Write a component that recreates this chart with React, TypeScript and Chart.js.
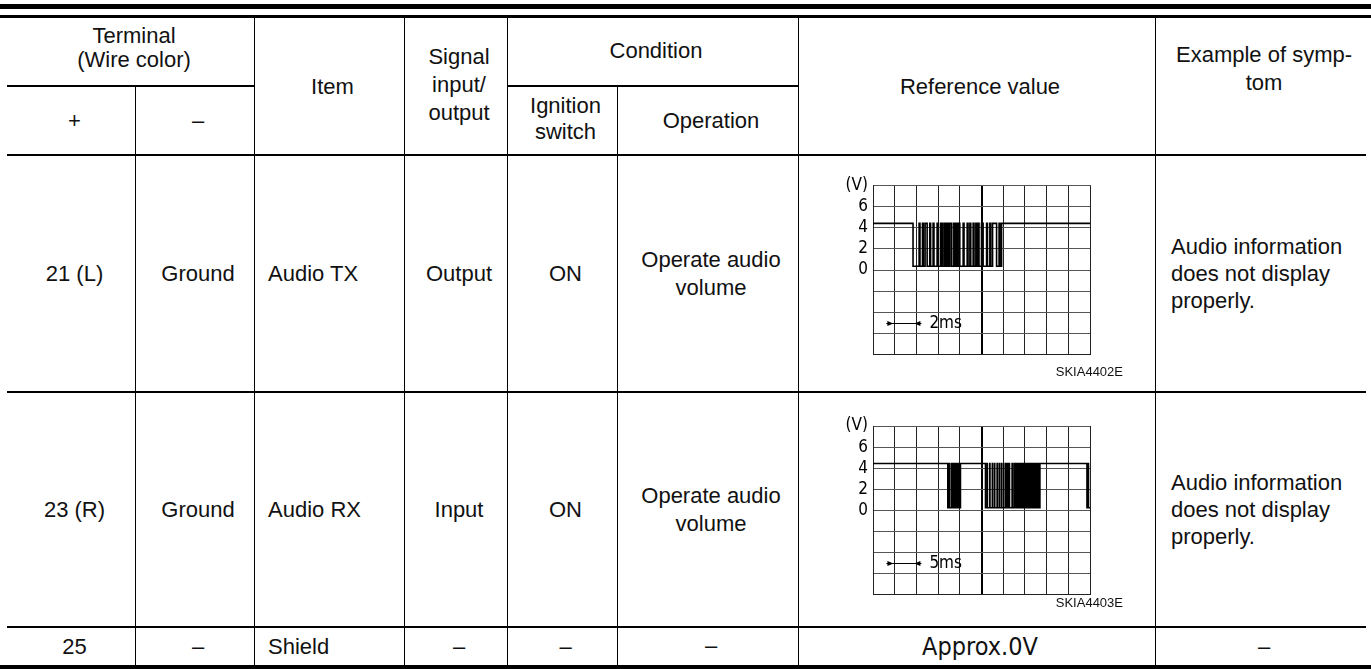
import React, { useEffect, useRef } from 'react';
import { Chart, registerables } from 'chart.js';

Chart.register(...registerables);

// ---------------- data ----------------
const terminalPlus = ['21 (L)', '23 (R)', '25'];
const terminalMinus = ['Ground', 'Ground', '–'];
const items = ['Audio TX', 'Audio RX', 'Shield'];
const signalIO = ['Output', 'Input', '–'];
const ignitionSwitch = ['ON', 'ON', '–'];
const operations = ['Operate audio\nvolume', 'Operate audio\nvolume', '–'];
const referenceTexts = ['', '', 'Approx.0V'];
const symptoms = [
  'Audio information\ndoes not display\nproperly.',
  'Audio information\ndoes not display\nproperly.',
  '–',
];
const figureIds = ['SKIA4402E', 'SKIA4403E'];

// oscilloscope vertical axis (V)
const yTickValues = [8, 6, 4, 2, 0];
const yTickLabels = ['(V)', '6', '4', '2', '0'];

// Audio TX waveform: [time ms, volts] – 2 ms / division
const txSignal: [number, number][] = [
  [0, 4.4], [3.69, 0.35],
  [4.25, 4.4], [4.33, 0.35],
  [4.56, 4.4], [4.64, 0.35],
  [4.8, 4.4], [4.99, 0.35],
  [5.23, 4.4], [5.31, 0.35],
  [5.54, 4.4], [5.62, 0.35],
  [5.91, 4.4], [5.99, 0.35],
  [6.22, 4.4], [6.3, 0.35], [6.38, 4.4], [6.46, 0.35],
  [6.62, 4.4], [6.7, 0.35],
  [6.78, 4.4], [6.86, 0.35],
  [6.96, 4.4], [7.02, 0.35], [7.1, 4.4], [7.26, 0.35],
  [7.45, 4.4], [7.53, 0.35],
  [7.63, 4.4], [7.71, 0.35],
  [7.85, 4.4], [8.0, 0.35],
  [8.31, 4.4], [8.39, 0.35],
  [8.68, 4.4], [8.76, 0.35],
  [8.93, 4.4], [9.01, 0.35],
  [9.23, 4.4], [9.31, 0.35],
  [9.48, 4.4], [9.56, 0.35],
  [9.69, 4.4], [9.77, 0.35],
  [10.0, 4.4], [10.15, 0.35],
  [10.47, 4.4], [10.55, 0.35],
  [10.77, 4.4], [10.85, 0.35],
  [11.02, 4.4], [11.39, 0.35],
  [11.62, 4.4], [11.7, 0.35],
  [11.85, 4.4], [20, 4.4],
];
const txTimeMax = 20;
const txTimeStep = 2;
const txMarkSpan = [1.23, 4.46];
const txMarkLabel = '2ms';

// Audio RX waveform: [time ms, volts] – 5 ms / division
const rxSignal: [number, number][] = [
  [0, 4.45], [17.23, 0.25],
  [17.6, 4.45], [17.65, 0.25], [18.1, 4.45], [18.15, 0.25], [18.5, 4.45], [18.55, 0.25],
  [18.9, 4.45], [18.95, 0.25], [19.3, 4.45], [19.35, 0.25], [19.55, 4.45], [19.6, 0.25],
  [19.8, 4.45], [19.85, 0.25], [20.0, 4.45], [20.05, 0.25],
  [20.15, 4.45], [25.92, 0.25],
  [26.3, 4.45], [26.35, 0.25], [26.9, 4.45], [26.95, 0.25], [27.5, 4.45], [27.55, 0.25],
  [28.0, 4.45], [28.05, 0.25], [28.6, 4.45], [28.65, 0.25], [29.1, 4.45], [29.15, 0.25],
  [29.6, 4.45], [29.65, 0.25], [30.1, 4.45], [30.15, 0.25], [30.6, 4.45], [30.65, 0.25],
  [31.0, 4.45], [31.1, 0.25], [31.35, 4.45], [31.45, 0.25], [32.05, 4.45], [32.1, 0.25],
  [32.5, 4.45], [32.65, 0.25], [32.8, 4.45], [32.95, 0.25], [33.1, 4.45], [33.25, 0.25],
  [33.4, 4.45], [33.55, 0.25], [33.7, 4.45], [33.85, 0.25], [34.0, 4.45], [34.15, 0.25],
  [34.3, 4.45], [34.45, 0.25], [34.6, 4.45], [34.75, 0.25], [34.9, 4.45], [35.05, 0.25],
  [35.2, 4.45], [35.35, 0.25], [35.5, 4.45], [35.65, 0.25], [35.8, 4.45], [35.95, 0.25],
  [36.1, 4.45], [36.25, 0.25], [36.4, 4.45], [36.55, 0.25], [36.7, 4.45], [36.85, 0.25],
  [37.0, 4.45], [37.15, 0.25], [37.3, 4.45], [37.45, 0.25], [37.6, 4.45], [37.75, 0.25],
  [37.9, 4.45], [38.05, 0.25], [38.2, 4.45], [38.3, 0.25],
  [38.46, 4.45], [49.3, 0.25], [49.6, 4.45], [49.65, 0.25], [50, 0.25],
];
const rxTimeMax = 50;
const rxTimeStep = 5;
const rxMarkSpan = [3.1, 11.15];
const rxMarkLabel = '5ms';

const markLevel = -5;

// ---------------- rendering ----------------
const TEXT_FONT = '"Liberation Sans", Arial, Helvetica, sans-serif';
const NARROW_FONT = '"Liberation Sans Narrow", "Arial Narrow", "DejaVu Sans Condensed", sans-serif';

const scaleMarkPlugin = {
  id: 'scaleMark',
  afterDatasetsDraw(chart: any, _args: any, opts: any) {
    const { ctx } = chart;
    const xs = chart.scales.x;
    const ys = chart.scales.y;
    const x1 = xs.getPixelForValue(opts.from);
    const x2 = xs.getPixelForValue(opts.to);
    const yy = Math.round(ys.getPixelForValue(opts.level)) + 0.5;
    ctx.save();
    ctx.strokeStyle = '#000';
    ctx.fillStyle = '#000';
    ctx.lineWidth = 1;
    ctx.beginPath();
    ctx.moveTo(x1, yy);
    ctx.lineTo(x2, yy);
    ctx.stroke();
    ctx.beginPath();
    ctx.moveTo(x1 + 7, yy);
    ctx.lineTo(x1 + 1, yy - 2.5);
    ctx.lineTo(x1 + 1, yy + 2.5);
    ctx.closePath();
    ctx.fill();
    ctx.beginPath();
    ctx.moveTo(x2 - 7, yy);
    ctx.lineTo(x2 - 1, yy - 2.5);
    ctx.lineTo(x2 - 1, yy + 2.5);
    ctx.closePath();
    ctx.fill();
    ctx.font = '17px ' + NARROW_FONT;
    ctx.textAlign = 'left';
    ctx.textBaseline = 'middle';
    ctx.fillText(opts.label, x2 + 8, yy);
    ctx.restore();
  },
};

interface ScopeProps {
  left: number;
  top: number;
  padTop: number;
  signal: [number, number][];
  xMax: number;
  xStep: number;
  span: number[];
  label: string;
}

function Scope({ left, top, padTop, signal, xMax, xStep, span, label }: ScopeProps) {
  const ref = useRef<HTMLCanvasElement>(null);
  useEffect(() => {
    const center = xMax / 2;
    const chart = new Chart(ref.current as HTMLCanvasElement, {
      type: 'line',
      data: {
        datasets: [
          {
            data: signal.map(([x, y]) => ({ x, y })),
            borderColor: '#000',
            borderWidth: 1.6,
            pointRadius: 0,
            stepped: true,
            fill: false,
          } as any,
        ],
      },
      options: {
        animation: false,
        responsive: false,
        devicePixelRatio: 1,
        layout: { padding: { left: 0, right: 50, top: padTop, bottom: 13 } },
        plugins: {
          legend: { display: false },
          tooltip: { enabled: false },
          scaleMark: { from: span[0], to: span[1], level: markLevel, label },
        } as any,
        scales: {
          x: {
            type: 'linear',
            min: 0,
            max: xMax,
            ticks: { display: false, stepSize: xStep },
            grid: {
              drawTicks: false,
              color: (c: any) => (c.tick && c.tick.value === center ? '#000' : '#222'),
              lineWidth: (c: any) => (c.tick && c.tick.value === center ? 2 : 1),
            },
            border: { display: true, color: '#222', width: 1 },
            afterFit: (s: any) => {
              s.height = 0;
            },
          },
          y: {
            type: 'linear',
            min: -8,
            max: 8,
            ticks: {
              stepSize: 2,
              autoSkip: false,
              padding: 5,
              color: '#000',
              font: { family: NARROW_FONT, size: 17 },
              callback: (v: any) => {
                const i = yTickValues.indexOf(Number(v));
                return i >= 0 ? yTickLabels[i] : '';
              },
            },
            grid: { drawTicks: false, color: '#555', lineWidth: 1 },
            border: { display: true, color: '#222', width: 1 },
            afterFit: (s: any) => {
              s.width = 53;
            },
          },
        },
      } as any,
      plugins: [scaleMarkPlugin],
    });
    return () => chart.destroy();
  }, []);
  return (
    <canvas
      ref={ref}
      width={320}
      height={200}
      style={{ position: 'absolute', left, top, width: 320, height: 200 }}
    />
  );
}

interface CellProps {
  x: number;
  y: number;
  w: number;
  h: number;
  align?: 'center' | 'left';
  pad?: number;
  lh?: number;
  valign?: 'center' | 'top';
  padTop?: number;
  padBottom?: number;
  style?: React.CSSProperties;
  children?: React.ReactNode;
}

function Cell({ x, y, w, h, align = 'center', pad = 7, lh = 27, valign = 'center', padTop = 0, padBottom = 0, style, children }: CellProps) {
  return (
    <div
      style={{
        position: 'absolute',
        left: x,
        top: y,
        width: w,
        height: h,
        boxSizing: 'border-box',
        paddingLeft: pad,
        paddingTop: padTop,
        paddingBottom: padBottom,
        display: 'flex',
        alignItems: valign === 'center' ? 'center' : 'flex-start',
        justifyContent: align === 'center' ? 'center' : 'flex-start',
        textAlign: align,
        whiteSpace: 'pre',
        lineHeight: lh + 'px',
        ...style,
      }}
    >
      <div>{children}</div>
    </div>
  );
}

function HLine({ x, y, w, t }: { x: number; y: number; w: number; t: number }) {
  return <div style={{ position: 'absolute', left: x, top: y, width: w, height: t, background: '#000' }} />;
}
function VLine({ x, y, h }: { x: number; y: number; h: number }) {
  return <div style={{ position: 'absolute', left: x, top: y, width: 1, height: h, background: '#000' }} />;
}

export default function App() {
  const cols = [7, 135, 254, 404, 507, 617, 798, 1155, 1366];
  const rowTops = [155, 392, 627];
  const rowBottoms = [392, 627, 665];

  return (
    <div
      style={{
        position: 'relative',
        width: 1371,
        height: 669,
        overflow: 'hidden',
        background: '#fff',
        color: '#111',
        fontFamily: TEXT_FONT,
        fontSize: 22,
      }}
    >
      <style>{'body{margin:0;background:#fff;}'}</style>

      {/* top rules */}
      <HLine x={0} y={4} w={1371} t={5} />
      <HLine x={0} y={15} w={1371} t={3} />

      {/* horizontal lines */}
      <HLine x={7} y={85} w={247} t={2} />
      <HLine x={507} y={85} w={291} t={2} />
      <HLine x={7} y={154} w={1359} t={2} />
      <HLine x={7} y={391} w={1359} t={2} />
      <HLine x={7} y={626} w={1359} t={2} />
      <HLine x={0} y={665} w={1371} t={4} />

      {/* vertical lines */}
      <VLine x={135} y={86} h={579} />
      <VLine x={254} y={18} h={647} />
      <VLine x={404} y={18} h={647} />
      <VLine x={507} y={18} h={647} />
      <VLine x={617} y={86} h={579} />
      <VLine x={798} y={18} h={647} />
      <VLine x={1155} y={18} h={647} />

      {/* header */}
      <Cell x={7} y={18} w={247} h={68} lh={24} padBottom={8}>{'Terminal\n(Wire color)'}</Cell>
      <Cell x={7} y={86} w={128} h={69}>+</Cell>
      <Cell x={135} y={86} w={119} h={69}>–</Cell>
      <Cell x={254} y={18} w={150} h={137}>Item</Cell>
      <Cell x={404} y={18} w={103} h={137} lh={28} padBottom={4}>{'Signal\ninput/\noutput'}</Cell>
      <Cell x={507} y={18} w={291} h={68} padBottom={4}>Condition</Cell>
      <Cell x={507} y={86} w={110} h={69} lh={26} padBottom={3}>{'Ignition\nswitch'}</Cell>
      <Cell x={617} y={86} w={181} h={69}>Operation</Cell>
      <Cell x={798} y={18} w={357} h={137}>Reference value</Cell>
      <Cell x={1155} y={18} w={211} h={137} lh={28} valign="top" padTop={23}>{'Example of symp-\ntom'}</Cell>

      {/* body rows */}
      {rowTops.map((top, r) => {
        const h = rowBottoms[r] - top;
        return (
          <React.Fragment key={r}>
            <Cell x={cols[0]} y={top} w={cols[1] - cols[0]} h={h}>{terminalPlus[r]}</Cell>
            <Cell x={cols[1]} y={top} w={cols[2] - cols[1]} h={h}>{terminalMinus[r]}</Cell>
            <Cell x={cols[2]} y={top} w={cols[3] - cols[2]} h={h} align="left" pad={14}>{items[r]}</Cell>
            <Cell x={cols[3]} y={top} w={cols[4] - cols[3]} h={h}>{signalIO[r]}</Cell>
            <Cell x={cols[4]} y={top} w={cols[5] - cols[4]} h={h}>{ignitionSwitch[r]}</Cell>
            <Cell x={cols[5]} y={top} w={cols[6] - cols[5]} h={h} lh={28}>{operations[r]}</Cell>
            {referenceTexts[r] ? (
              <Cell x={cols[6]} y={top} w={cols[7] - cols[6]} h={h} style={{ fontFamily: NARROW_FONT, fontSize: 25 }}>
                {referenceTexts[r]}
              </Cell>
            ) : null}
            <Cell
              x={cols[7]}
              y={top}
              w={cols[8] - cols[7]}
              h={h}
              align={symptoms[r] === '–' ? 'center' : 'left'}
              pad={symptoms[r] === '–' ? 7 : 16}
              lh={27}
            >
              {symptoms[r]}
            </Cell>
          </React.Fragment>
        );
      })}

      {/* oscilloscope figures */}
      <Scope left={820} top={170} padTop={15} signal={txSignal} xMax={txTimeMax} xStep={txTimeStep} span={txMarkSpan} label={txMarkLabel} />
      <Scope left={820} top={410} padTop={16} signal={rxSignal} xMax={rxTimeMax} xStep={rxTimeStep} span={rxMarkSpan} label={rxMarkLabel} />

      <div style={{ position: 'absolute', left: 1000, width: 123, top: 364, textAlign: 'right', fontSize: 13, lineHeight: '16px' }}>
        {figureIds[0]}
      </div>
      <div style={{ position: 'absolute', left: 1000, width: 123, top: 595, textAlign: 'right', fontSize: 13, lineHeight: '16px' }}>
        {figureIds[1]}
      </div>
    </div>
  );
}
